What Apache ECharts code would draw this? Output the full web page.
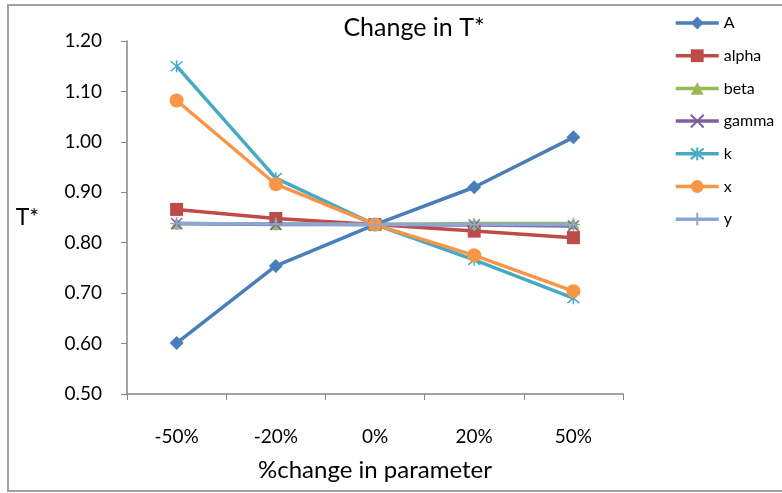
<!DOCTYPE html>
<html><head><meta charset="utf-8">
<script src="https://cdn.jsdelivr.net/npm/echarts@6/dist/echarts.min.js"></script>
<style>html,body{margin:0;padding:0;background:#fff}#c{width:782px;height:493px}</style>
</head><body><div id="c"></div>
<script>
const categories = ['-50%', '-20%', '0%', '20%', '50%'];
const seriesNames = ['A', 'alpha', 'beta', 'gamma', 'k', 'x', 'y'];
const valA     = [0.601, 0.754, 0.836, 0.910, 1.009];
const valAlpha = [0.866, 0.848, 0.836, 0.823, 0.810];
const valBeta  = [0.838, 0.837, 0.836, 0.838, 0.838];
const valGamma = [0.838, 0.836, 0.836, 0.835, 0.833];
const valK     = [1.150, 0.928, 0.836, 0.766, 0.690];
const valX     = [1.082, 0.916, 0.836, 0.775, 0.704];
const valY     = [0.838, 0.837, 0.836, 0.836, 0.836];
const yTicks = [0.50, 0.60, 0.70, 0.80, 0.90, 1.00, 1.10, 1.20];

const allValues = [valA, valAlpha, valBeta, valGamma, valK, valX, valY];
const colors = ['#4A7EBB', '#BE4B48', '#98B954', '#7D60A0', '#46AAC5', '#F79646', '#8CA7D3'];
const symbols = ['diamond', 'rect', 'triangle',
  'path://M0,0L10,10M10,0L0,10',
  'path://M0,0L10,10M10,0L0,10M5,-1L5,11',
  'circle',
  'path://M0,5L10,5M5,0L5,10'];
const symSizes = [14, 13, 12, 11, 12, 14, 13];
const strokeSym = [false, false, false, true, true, false, true];

const chart = echarts.init(document.getElementById('c'), null, {renderer: 'canvas'});
const font = 'Lato';
const series = seriesNames.map((n, i) => ({
  name: n, type: 'line', data: allValues[i],
  symbol: symbols[i], symbolSize: symSizes[i], showAllSymbol: true,
  lineStyle: {color: colors[i], width: 3.5},
  itemStyle: strokeSym[i]
    ? {color: colors[i], borderColor: colors[i], borderWidth: 1.5}
    : {color: colors[i]},
  emphasis: {disabled: true},
  animation: false
}));

chart.setOption({
  animation: false,
  color: colors,
  graphic: [{type: 'rect', shape: {x: 8, y: 5, width: 800, height: 486},
    style: {fill: 'none', stroke: '#A0A0A0', lineWidth: 2}, z: -1}],
  title: {text: 'Change in T*', left: 409, top: 10, textAlign: 'center',
    textStyle: {fontFamily: font, fontSize: 25, fontWeight: 'normal', color: '#000'}},
  legend: {orient: 'vertical', left: 669, top: 10, itemWidth: 43, itemHeight: 16, itemGap: 16.7,
    data: seriesNames,
    lineStyle: {width: 3.5},
    textStyle: {fontFamily: font, fontSize: 16, color: '#000'}},
  grid: {left: 127, right: 159, top: 41, bottom: 99, containLabel: false},
  xAxis: {type: 'category', data: categories, boundaryGap: true,
    name: '%change in parameter', nameLocation: 'middle', nameGap: 64,
    nameTextStyle: {fontFamily: font, fontSize: 24, color: '#000'},
    axisLine: {lineStyle: {color: '#868686', width: 1.5}},
    axisTick: {show: true, alignWithLabel: false, length: 6, lineStyle: {color: '#868686'}},
    axisLabel: {fontFamily: font, fontSize: 19, color: '#000', margin: 33},
    splitLine: {show: false}},
  yAxis: {type: 'value', min: 0.5, max: 1.2, interval: 0.1,
    name: 'T*', nameLocation: 'middle', nameGap: 88, nameRotate: 0,
    nameTextStyle: {fontFamily: font, fontSize: 23, color: '#000'},
    axisLine: {show: true, lineStyle: {color: '#868686', width: 1.5}},
    axisTick: {show: true, length: 6, lineStyle: {color: '#868686'}},
    axisLabel: {fontFamily: font, fontSize: 19, color: '#000', margin: 25,
      formatter: v => { const t = yTicks.find(x => Math.abs(x - v) < 1e-6); return (t !== undefined ? t : v).toFixed(2); }},
    splitLine: {show: false}},
  series: series
});
</script></body></html>
